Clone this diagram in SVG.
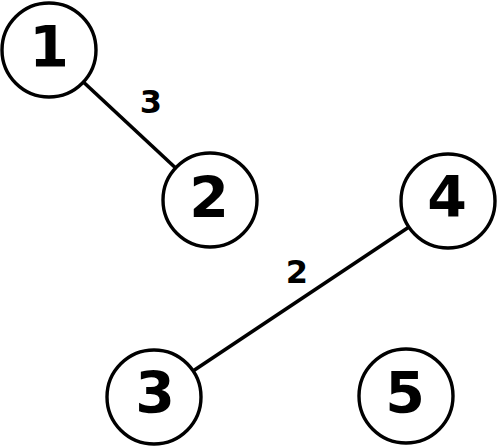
<svg xmlns="http://www.w3.org/2000/svg" width="499" height="446" viewBox="0 0 499 446">
<style>
.node circle{fill:#fff;stroke:#000;stroke-width:3.4}
.node text{font-family:"DejaVu Sans",sans-serif;font-weight:bold;font-size:57px;text-anchor:middle;fill:#000}
.edge line{stroke:#000;stroke-width:3.6}
.elabel{font-family:"DejaVu Sans",sans-serif;font-weight:bold;font-size:32px;text-anchor:middle;fill:#000}
</style>
<rect width="499" height="446" fill="#fff"/>
<g id="edges">
<g class="edge" id="e1-2"><line x1="49" y1="50" x2="210" y2="200"/><text class="elabel" x="151" y="113">3</text></g>
<g class="edge" id="e3-4"><line x1="154" y1="397" x2="448" y2="201"/><text class="elabel" x="297" y="283">2</text></g>
</g>
<g class="node" id="n1"><circle cx="49" cy="50" r="47"/><text x="49" y="67">1</text></g>
<g class="node" id="n2"><circle cx="210" cy="200" r="47"/><text x="209" y="218">2</text></g>
<g class="node" id="n4"><circle cx="448" cy="201" r="47"/><text x="447" y="217">4</text></g>
<g class="node" id="n3"><circle cx="154" cy="397" r="47"/><text x="155" y="413">3</text></g>
<g class="node" id="n5"><circle cx="406" cy="396" r="47"/><text x="405" y="413">5</text></g>
</svg>
